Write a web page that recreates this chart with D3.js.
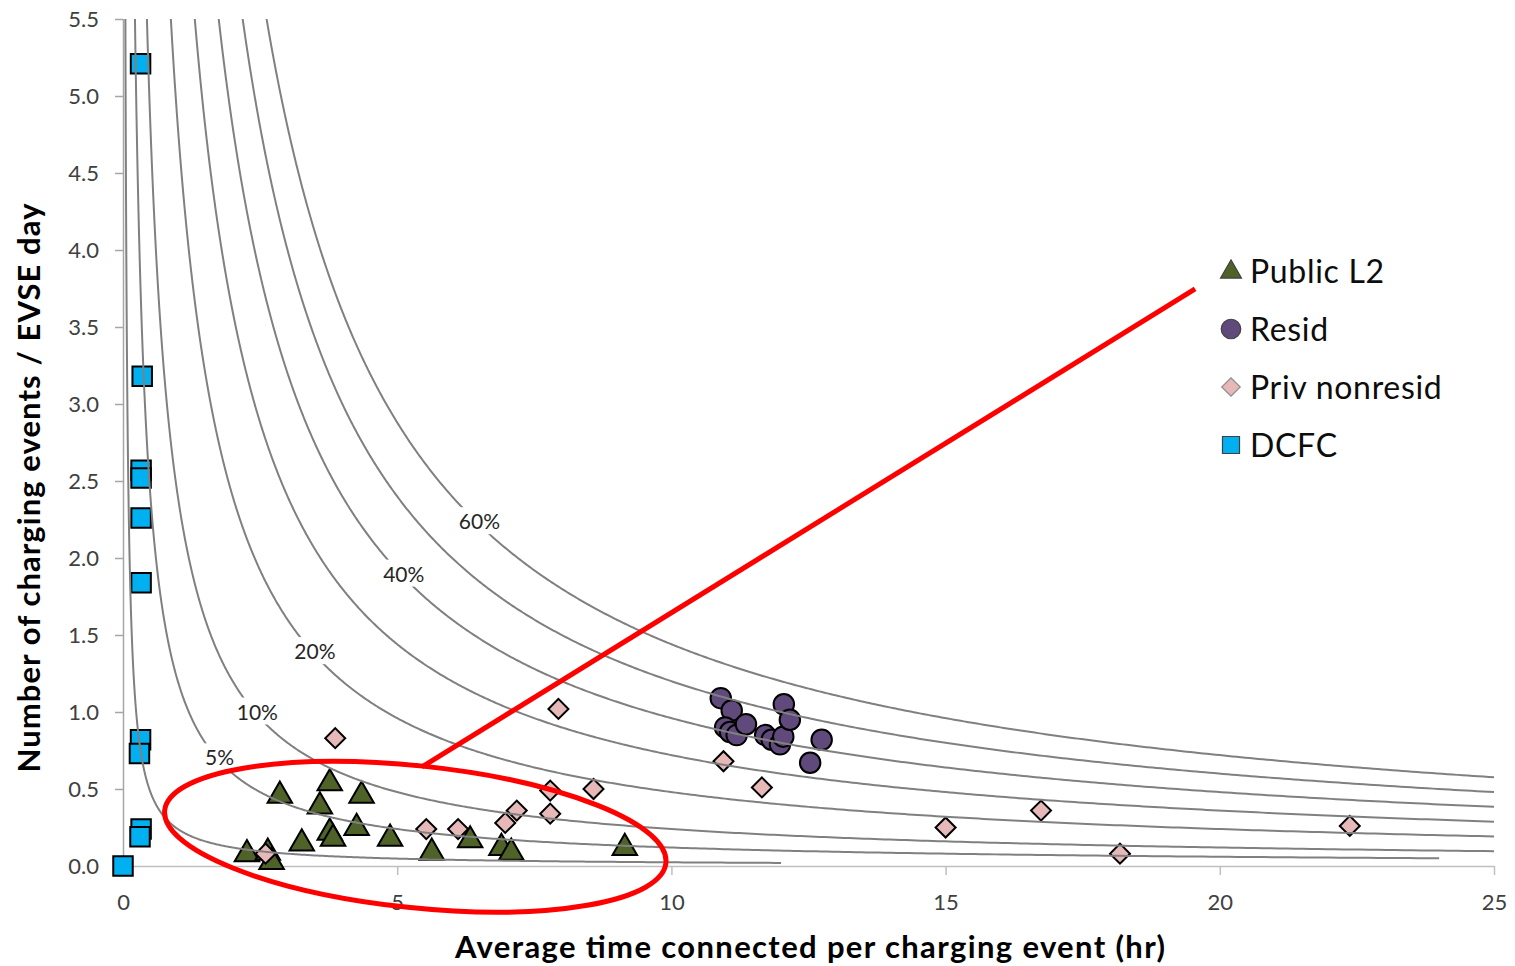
<!DOCTYPE html>
<html>
<head>
<meta charset="utf-8">
<script src="https://cdn.jsdelivr.net/npm/d3@7"></script>
<style>
  body { margin: 0; background: #fff; }
  svg { display: block; }
  text { font-family: Lato, "Open Sans", "Noto Sans", sans-serif; }
</style>
</head>
<body>
<svg id="chart" width="1515" height="966"></svg>
<script>
// Average hours connected per event, events per EVSE-day
const publicL2 = [
  [2.26, 0.09], [2.64, 0.10], [2.71, 0.04], [2.86, 0.47], [3.26, 0.16],
  [3.77, 0.55], [3.59, 0.40], [4.35, 0.47], [3.77, 0.23], [3.83, 0.19],
  [4.26, 0.26], [4.87, 0.19], [5.63, 0.10], [6.33, 0.18], [6.90, 0.13],
  [7.08, 0.10], [9.15, 0.13]
];
const resid = [
  [10.90, 1.09], [11.10, 1.01], [10.98, 0.90], [11.07, 0.87], [11.19, 0.85],
  [11.36, 0.92], [11.71, 0.85], [11.83, 0.82], [11.98, 0.79], [12.04, 0.84],
  [12.05, 1.05], [12.16, 0.95], [12.74, 0.82], [12.53, 0.67]
];
const privNonresid = [
  [3.87, 0.83], [2.60, 0.08], [5.53, 0.24], [6.11, 0.24], [6.97, 0.28],
  [7.18, 0.36], [7.79, 0.49], [7.79, 0.34], [7.94, 1.02], [8.58, 0.50],
  [10.95, 0.68], [11.65, 0.51], [15.00, 0.25], [16.74, 0.36], [18.18, 0.08],
  [22.37, 0.26]
];
const dcfc = [
  [0.32, 5.21], [0.35, 3.18], [0.33, 2.57], [0.33, 2.52], [0.33, 2.26],
  [0.33, 1.84], [0.32, 0.82], [0.30, 0.73], [0.33, 0.24], [0.31, 0.19],
  [0.00, 0.00]
];

// Utilization curves: events/day = utilization * 24 h / hours per event
const utilLevels = [0.01, 0.05, 0.10, 0.20, 0.30, 0.40, 0.50, 0.60];
const utilEndHours = [12, 24, 25, 25, 25, 25, 25, 25];
const utilLabels = [
  { level: 0.60, text: "60%", at: 6.50 },
  { level: 0.40, text: "40%", at: 5.12 },
  { level: 0.20, text: "20%", at: 3.50 },
  { level: 0.10, text: "10%", at: 2.45 },
  { level: 0.05, text: "5%", at: 1.76 }
];

const xTicks = [0, 5, 10, 15, 20, 25];
const yTicks = [0, 0.5, 1.0, 1.5, 2.0, 2.5, 3.0, 3.5, 4.0, 4.5, 5.0, 5.5];

const legendItems = [
  { name: "Public L2", shape: "triangle", fill: "#4F6228" },
  { name: "Resid", shape: "circle", fill: "#604A7B" },
  { name: "Priv nonresid", shape: "diamond", fill: "#E6B9B8" },
  { name: "DCFC", shape: "square", fill: "#00B0F0" }
];

// Highlight annotation (data coordinates)
const highlightCenter = [5.33, 0.19];
const highlightLine = [[5.45, 0.643], [19.55, 3.747]];

const svg = d3.select("#chart");
const plotLeft = 123, plotTop = 19, plotRight = 1494, plotBottom = 866;

const x = d3.scaleLinear().domain([0, 25]).range([plotLeft, plotRight]);
const y = d3.scaleLinear().domain([0, 5.5]).range([plotBottom, plotTop]);

svg.append("defs").append("clipPath").attr("id", "plotClip")
  .append("rect").attr("x", plotLeft).attr("y", plotTop)
  .attr("width", plotRight - plotLeft).attr("height", plotBottom - plotTop + 2);

// Axes
const xAxis = svg.append("g").attr("transform", `translate(0,${plotBottom})`)
  .call(d3.axisBottom(x).tickValues(xTicks).tickSize(9).tickPadding(19)
    .tickFormat(d3.format("d")));
xAxis.select(".domain").attr("stroke", "#bfbfbf").attr("stroke-width", 1.5)
  .attr("d", `M${plotLeft},0.5H${plotRight}`);
xAxis.selectAll(".tick line").attr("stroke", "#bfbfbf").attr("stroke-width", 1.5);
xAxis.selectAll(".tick text").attr("font-size", 22).attr("fill", "#404040")
  .attr("font-family", "Lato, sans-serif");

const yAxis = svg.append("g").attr("transform", `translate(${plotLeft},0)`)
  .call(d3.axisLeft(y).tickValues(yTicks).tickSize(8).tickPadding(16)
    .tickFormat(d3.format(".1f")));
yAxis.select(".domain").attr("stroke", "#a6a6a6").attr("stroke-width", 1.5)
  .attr("d", `M0.5,${plotTop}V${plotBottom}`);
yAxis.selectAll(".tick line").attr("stroke", "#a6a6a6").attr("stroke-width", 1.5);
yAxis.selectAll(".tick text").attr("font-size", 22).attr("fill", "#404040")
  .attr("font-family", "Lato, sans-serif");

// Markers
const sym = {
  triangle: d3.symbol().type(d3.symbolTriangle).size(260),
  circle: d3.symbol().type(d3.symbolCircle).size(330),
  diamond: d3.symbol().type(d3.symbolSquare).size(200),
  square: d3.symbol().type(d3.symbolSquare).size(380)
};
function drawSeries(data, shape, fill) {
  svg.append("g").selectAll("path").data(data).join("path")
    .attr("d", sym[shape])
    .attr("transform", d => {
      const r = shape === "diamond" ? " rotate(45)" : "";
      const dy = shape === "triangle" ? 2 : 0;
      return `translate(${x(d[0])},${y(d[1]) + dy})${r}`;
    })
    .attr("fill", fill).attr("stroke", "#000").attr("stroke-width", 2);
}
drawSeries(publicL2, "triangle", "#4F6228");
drawSeries(resid, "circle", "#604A7B");
drawSeries(privNonresid, "diamond", "#E6B9B8");
drawSeries(dcfc, "square", "#00B0F0");

// Utilization curves
const line = d3.line().x(d => x(d[0])).y(d => y(d[1]));
const curveG = svg.append("g").attr("clip-path", "url(#plotClip)");
utilLevels.forEach((u, i) => {
  const start = u * 24 / 5.8;
  const end = utilEndHours[i];
  const n = 600;
  const pts = d3.range(n + 1).map(k => {
    const h = start * Math.pow(end / start, k / n);
    return [h, u * 24 / h];
  });
  curveG.append("path").attr("d", line(pts))
    .attr("fill", "none").attr("stroke", "#808080").attr("stroke-width", 2);
});

// Curve labels with white backing
utilLabels.forEach(l => {
  const cx = x(l.at), cy = y(l.level * 24 / l.at) - 3;
  const g = svg.append("g").attr("transform", `translate(${cx},${cy})`);
  const t = g.append("text").attr("text-anchor", "middle").attr("dy", "0.35em")
    .attr("font-size", 21).attr("fill", "#262626").text(l.text);
  const bb = t.node().getBBox();
  g.insert("rect", "text").attr("x", bb.x - 5).attr("y", bb.y - 1)
    .attr("width", bb.width + 10).attr("height", bb.height + 2).attr("fill", "#fff");
});

// Legend
const legend = svg.append("g");
legendItems.forEach((it, i) => {
  const ly = 271 + i * 58;
  const g = legend.append("g").attr("transform", `translate(1231,${ly})`);
  const s = {
    triangle: d3.symbol().type(d3.symbolTriangle).size(190),
    circle: d3.symbol().type(d3.symbolCircle).size(300),
    diamond: d3.symbol().type(d3.symbolSquare).size(170),
    square: d3.symbol().type(d3.symbolSquare).size(290)
  }[it.shape];
  g.append("path").attr("d", s)
    .attr("transform", (it.shape === "diamond" ? "rotate(45)" : "") + (it.shape === "triangle" ? "translate(0,1)" : ""))
    .attr("fill", it.fill).attr("stroke", it.shape === "diamond" ? "#8c8c8c" : "#404040")
    .attr("stroke-width", 1.2);
  g.append("text").attr("x", 19).attr("dy", "0.36em").attr("font-size", 32)
    .attr("letter-spacing", 0.7).attr("fill", "#0d0d0d").text(it.name);
});

// Axis titles
svg.append("text").attr("x", 810).attr("y", 958).attr("text-anchor", "middle")
  .attr("font-size", 31).attr("font-weight", "bold").attr("fill", "#000")
  .attr("textLength", 710).attr("lengthAdjust", "spacing")
  .text("Average time connected per charging event (hr)");
svg.append("text").attr("transform", "translate(40,488) rotate(-90)")
  .attr("text-anchor", "middle").attr("font-size", 31).attr("font-weight", "bold")
  .attr("textLength", 569).attr("lengthAdjust", "spacing")
  .attr("fill", "#000").text("Number of charging events / EVSE day");

// Red highlight annotation
svg.append("ellipse")
  .attr("cx", 0).attr("cy", 0).attr("rx", 252).attr("ry", 71)
  .attr("transform", `translate(${x(highlightCenter[0])},${y(highlightCenter[1])}) rotate(6)`)
  .attr("fill", "none").attr("stroke", "#FF0000").attr("stroke-width", 5);
svg.append("line")
  .attr("x1", x(highlightLine[0][0])).attr("y1", y(highlightLine[0][1]))
  .attr("x2", x(highlightLine[1][0])).attr("y2", y(highlightLine[1][1]))
  .attr("stroke", "#FF0000").attr("stroke-width", 5);
</script>
</body>
</html>
